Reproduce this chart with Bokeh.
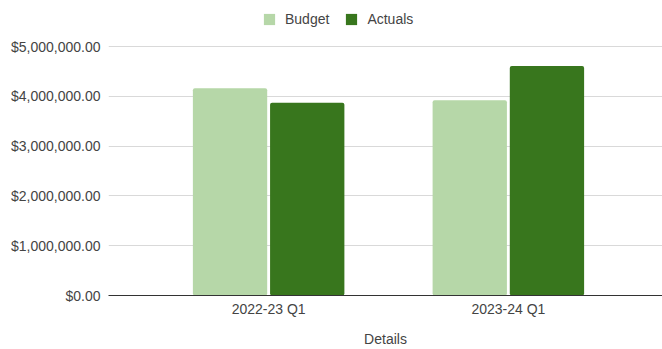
from bokeh.plotting import figure
from bokeh.models import (ColumnDataSource, Range1d, FixedTicker, NumeralTickFormatter,
                          Legend, LegendItem)
from bokeh.transform import dodge
from bokeh.embed import file_html
from bokeh.resources import INLINE

categories = ["2022-23 Q1", "2023-24 Q1"]
budget = [4160000, 3920000]
actuals = [3870000, 4610000]
y_ticks = [0, 1000000, 2000000, 3000000, 4000000, 5000000]

FONT = "Liberation Sans"
TXT = "#444444"

xpos = [i + 0.5 for i in range(len(categories))]
src = ColumnDataSource(dict(x=xpos, cat=categories, budget=budget, actuals=actuals))

# frame spans the full top of the canvas so the legend can live inside it;
# the 5,000,000 gridline lands 46px below the top.
p = figure(width=662, height=349, output_backend="svg", toolbar_location=None,
           x_range=Range1d(-0.168, 2.143), y_range=Range1d(0, 5000000 * 295 / 249),
           min_border_left=108, min_border_right=0, min_border_top=0, min_border_bottom=54)
p.outline_line_color = None
p.background_fill_color = "white"

w = 0.31
r1 = p.vbar(x=dodge("x", -0.161), top="budget", width=w, source=src,
            fill_color="#b6d7a8", line_color=None, border_radius=2)
r2 = p.vbar(x=dodge("x", 0.161), top="actuals", width=w, source=src,
            fill_color="#38761d", line_color=None, border_radius=2)

# axes
p.xaxis.ticker = FixedTicker(ticks=xpos)
p.xaxis.major_label_overrides = {x: c for x, c in zip(xpos, categories)}
p.xaxis.axis_line_color = "#333333"
p.xaxis.axis_line_width = 1
p.xaxis.major_tick_line_color = None
p.xaxis.major_tick_out = 0
p.xaxis.major_tick_in = 0
p.xaxis.minor_tick_line_color = None
p.xaxis.major_label_standoff = 5
p.xaxis.axis_label = "Details"
p.xaxis.axis_label_standoff = 11
p.xaxis.axis_label_text_font_style = "normal"

p.yaxis.ticker = FixedTicker(ticks=y_ticks)
p.yaxis.formatter = NumeralTickFormatter(format="$0,0.00")
p.yaxis.axis_line_color = None
p.yaxis.major_tick_line_color = None
p.yaxis.major_tick_out = 0
p.yaxis.major_tick_in = 0
p.yaxis.minor_tick_line_color = None
p.yaxis.major_label_standoff = 8

for ax in (p.xaxis[0], p.yaxis[0]):
    ax.major_label_text_font = FONT
    ax.major_label_text_font_size = "14px"
    ax.major_label_text_color = TXT
    ax.axis_label_text_font = FONT
    ax.axis_label_text_font_size = "14px"
    ax.axis_label_text_color = TXT

p.xgrid.grid_line_color = None
p.ygrid.ticker = FixedTicker(ticks=y_ticks)
p.ygrid.grid_line_color = "#d9d9d9"
p.ygrid.grid_line_width = 1

legend = Legend(items=[LegendItem(label="Budget", renderers=[r1]),
                       LegendItem(label="Actuals", renderers=[r2])],
                orientation="horizontal", location=(154, 268),
                padding=0, margin=0, spacing=15, label_standoff=9,
                glyph_width=14, glyph_height=14, label_height=14,
                label_text_font=FONT, label_text_font_size="14px",
                label_text_color=TXT, border_line_color=None,
                background_fill_alpha=0)
p.add_layout(legend, "center")

open("out.html", "w").write(file_html(p, INLINE))
